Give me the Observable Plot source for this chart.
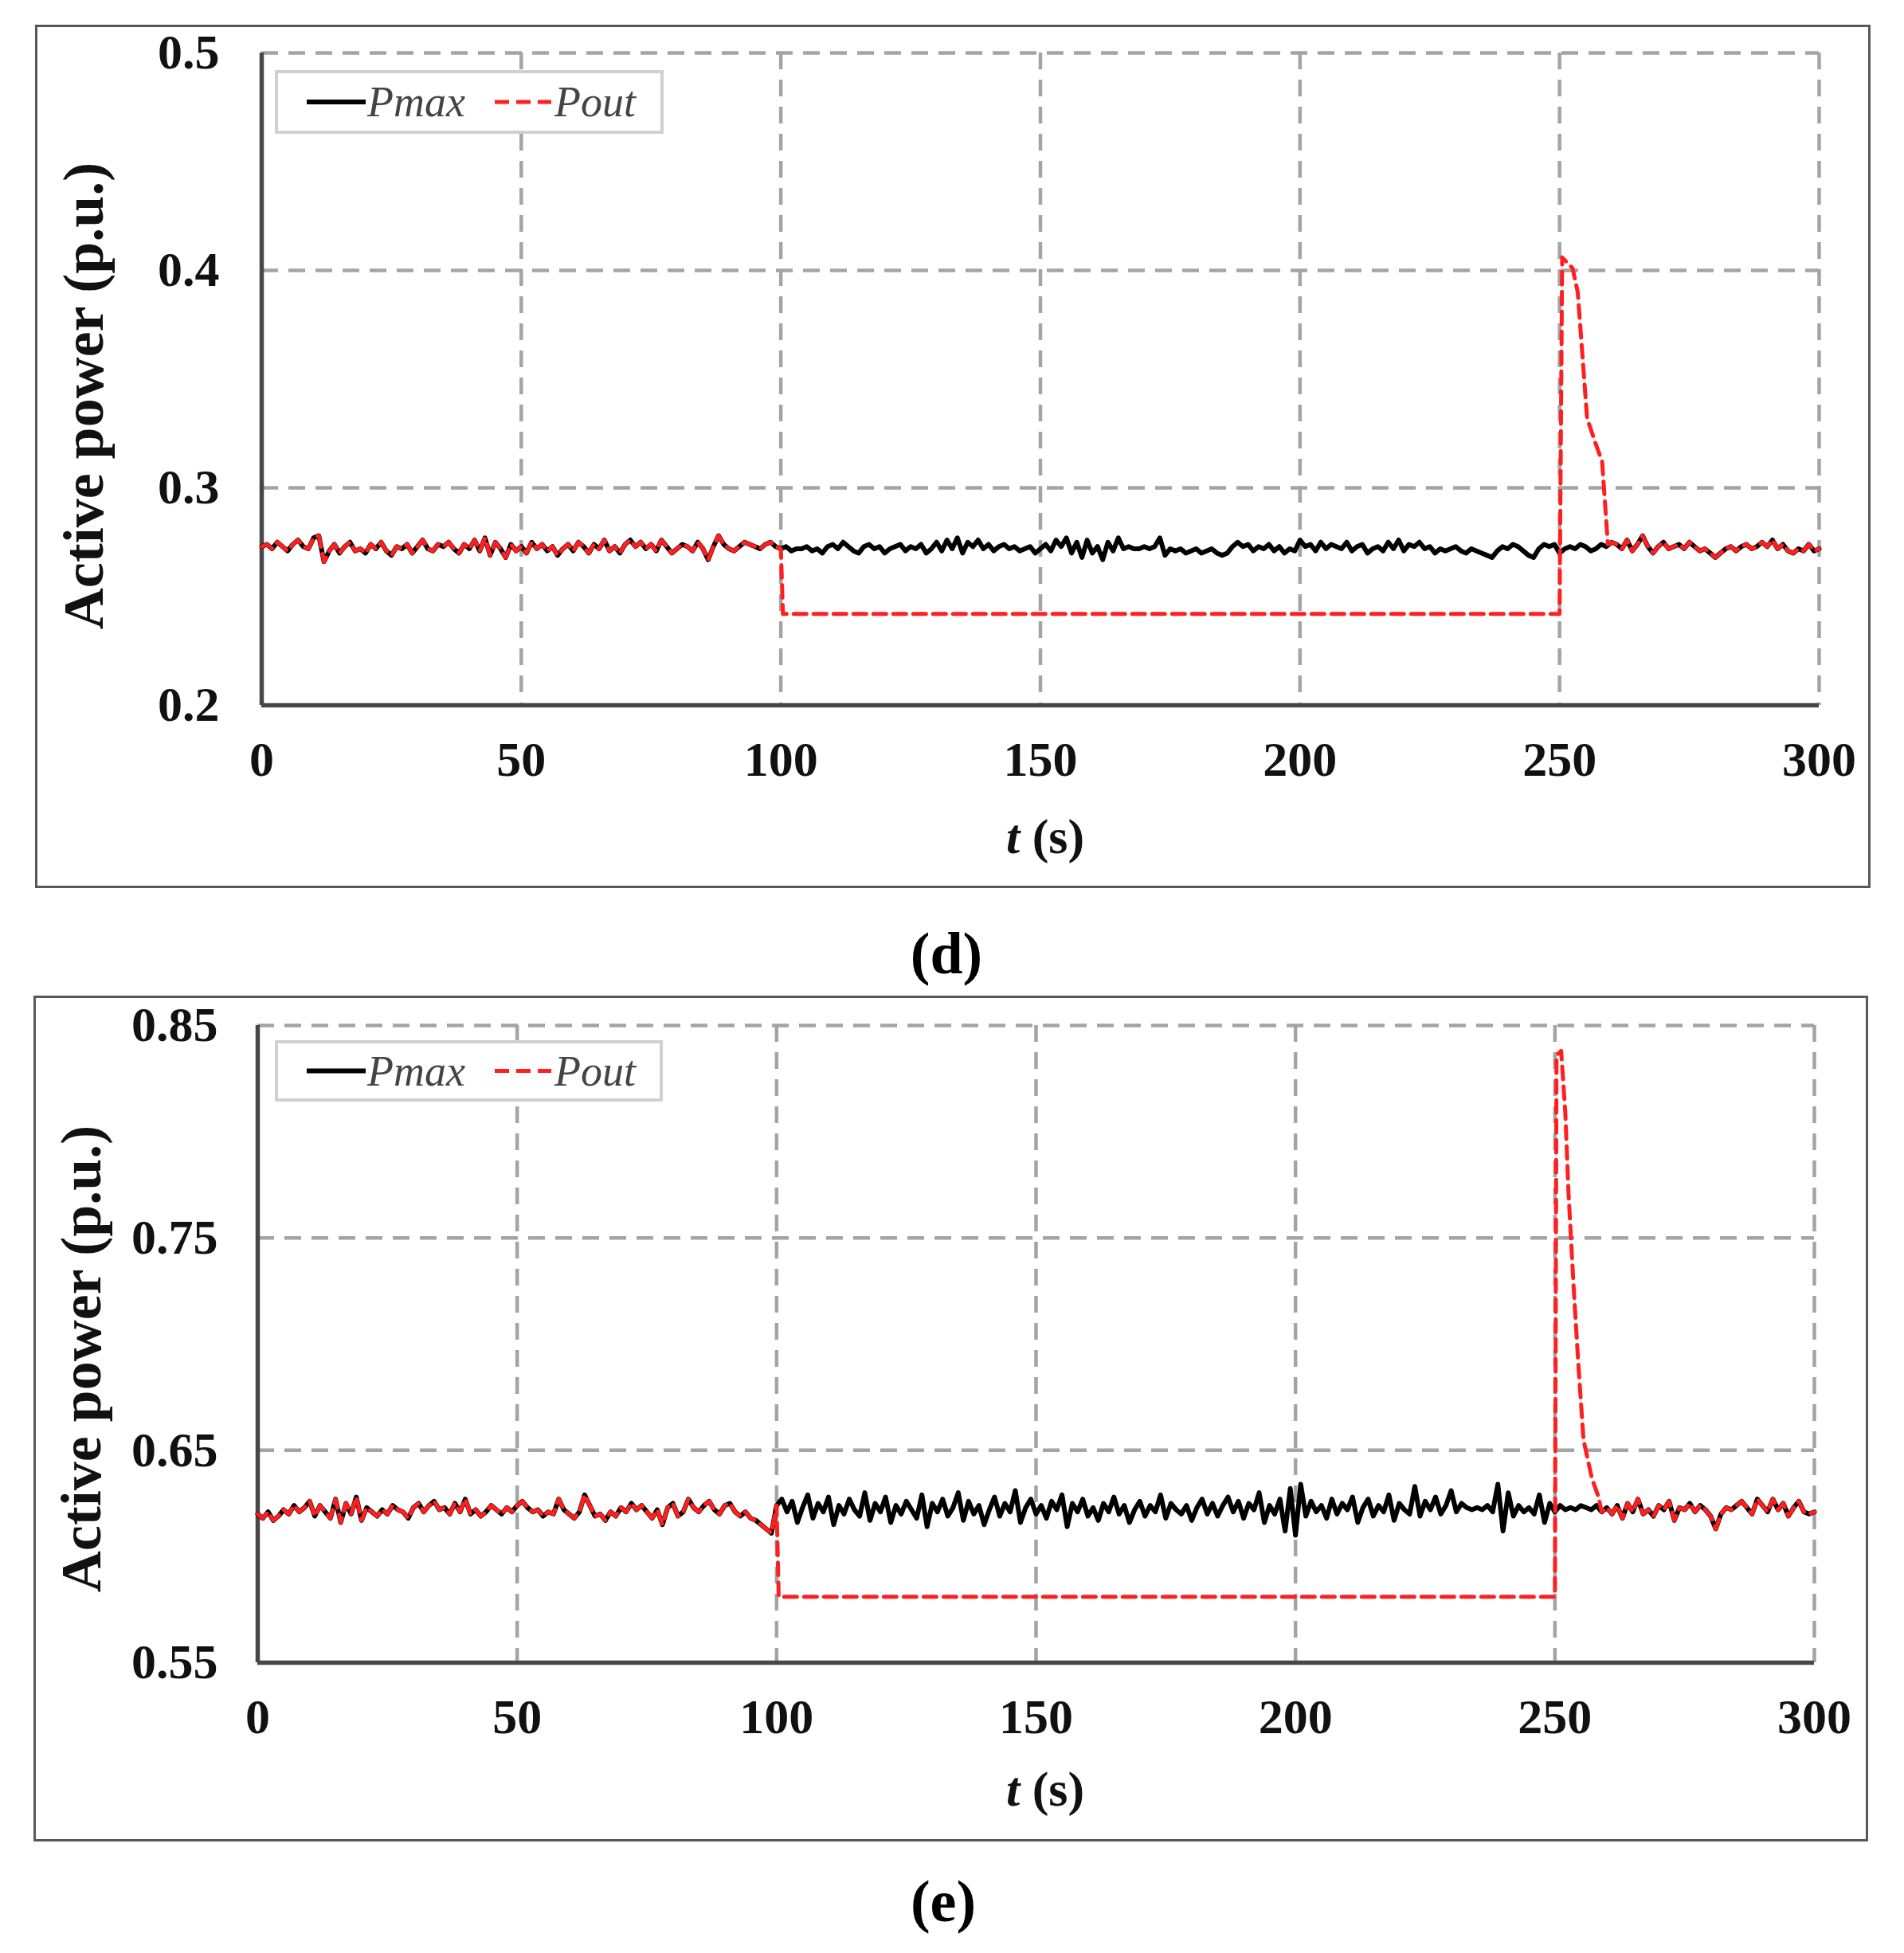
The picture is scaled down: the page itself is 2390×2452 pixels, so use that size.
<!DOCTYPE html>
<html>
<head>
<meta charset="utf-8">
<script src="https://cdn.jsdelivr.net/npm/d3@7"></script>
<script src="https://cdn.jsdelivr.net/npm/@observablehq/plot@0.6"></script>
<style>
  html, body { margin: 0; padding: 0; background: #fff; }
  #page { position: relative; width: 2390px; height: 2452px; overflow: hidden; font-family: "Liberation Serif", "Times New Roman", serif; }
  .panel-svg { position: absolute; left: 0; }
  .box { position: absolute; border: 3px solid #585858; box-sizing: border-box; pointer-events: none; }
  .lbl { position: absolute; transform: translate(-50%, -50%); white-space: nowrap; font-weight: bold; color: #111; }
  .ylbl { position: absolute; transform: translate(-50%, -50%) rotate(-90deg); white-space: nowrap; font-weight: bold; color: #111; font-size: 72px; }
  .legend { position: absolute; border: 4px solid #d0d0d0; box-sizing: border-box; background: #fff; }
  .legend svg { position: absolute; left: 0; top: 0; }
  .legend span { position: absolute; font-style: italic; font-size: 54px; color: #444; transform: translateY(-50%); }
</style>
</head>
<body>
<div id="page"></div>
<script>
// ---------- data ----------
const xTicks = [0, 50, 100, 150, 200, 250, 300];
const xTickLabels = ["0", "50", "100", "150", "200", "250", "300"];
const yTicksD = [0.2, 0.3, 0.4, 0.5];
const yTickLabelsD = ["0.2", "0.3", "0.4", "0.5"];
const yTicksE = [0.55, 0.65, 0.75, 0.85];
const yTickLabelsE = ["0.55", "0.65", "0.75", "0.85"];
const seriesNames = ["Pmax", "Pout"];

// Pmax, panel (d): one sample per second, t = 0..300
const pmaxD = [
0.273,0.274,0.272,0.275,0.273,0.271,0.274,0.276,0.273,0.272,
0.277,0.278,0.266,0.271,0.274,0.270,0.273,0.275,0.271,0.272,
0.270,0.274,0.272,0.275,0.271,0.269,0.273,0.272,0.274,0.270,
0.273,0.276,0.272,0.271,0.274,0.273,0.275,0.272,0.270,0.274,
0.272,0.276,0.271,0.277,0.269,0.275,0.272,0.268,0.274,0.271,
0.273,0.270,0.275,0.272,0.274,0.271,0.273,0.269,0.272,0.274,
0.271,0.275,0.273,0.270,0.274,0.272,0.276,0.271,0.273,0.270,
0.274,0.276,0.273,0.275,0.272,0.274,0.271,0.276,0.273,0.270,
0.272,0.274,0.273,0.271,0.275,0.272,0.267,0.273,0.278,0.274,
0.272,0.271,0.273,0.275,0.274,0.273,0.272,0.274,0.275,0.273,
0.272,0.273,0.271,0.272,0.272,0.273,0.271,0.272,0.270,0.273,
0.274,0.272,0.275,0.273,0.271,0.270,0.273,0.274,0.272,0.273,
0.270,0.272,0.273,0.274,0.271,0.273,0.272,0.274,0.270,0.272,
0.275,0.271,0.276,0.272,0.277,0.270,0.275,0.273,0.276,0.272,
0.274,0.271,0.273,0.274,0.272,0.273,0.271,0.272,0.273,0.270,
0.272,0.274,0.271,0.276,0.273,0.277,0.270,0.275,0.268,0.276,
0.270,0.273,0.267,0.275,0.271,0.277,0.272,0.273,0.272,0.272,
0.273,0.272,0.273,0.277,0.269,0.272,0.271,0.272,0.270,0.271,
0.272,0.270,0.271,0.272,0.270,0.269,0.270,0.273,0.275,0.273,
0.274,0.271,0.273,0.272,0.274,0.271,0.273,0.270,0.272,0.271,
0.276,0.273,0.274,0.271,0.275,0.272,0.274,0.273,0.272,0.275,
0.271,0.273,0.274,0.270,0.272,0.273,0.271,0.275,0.272,0.276,
0.271,0.274,0.273,0.275,0.272,0.273,0.270,0.272,0.271,0.272,
0.273,0.271,0.270,0.272,0.271,0.270,0.269,0.268,0.271,0.273,
0.272,0.274,0.273,0.271,0.269,0.268,0.272,0.274,0.273,0.274,
0.270,0.272,0.273,0.272,0.274,0.273,0.271,0.272,0.274,0.273,
0.275,0.274,0.272,0.276,0.271,0.274,0.278,0.273,0.270,0.273,
0.275,0.272,0.273,0.274,0.272,0.275,0.273,0.271,0.272,0.270,
0.268,0.270,0.272,0.273,0.271,0.273,0.274,0.272,0.273,0.275,
0.273,0.276,0.272,0.274,0.271,0.270,0.272,0.271,0.274,0.271,
0.272
];
// Pout, panel (d): follows Pmax until t=100 and from t=260; in between:
const poutDTransT = [100.4, 150, 200, 250, 250.5, 252.5, 253.5, 255.3, 257.0, 258.2, 259.3];
const poutDTransV = [0.242, 0.242, 0.242, 0.242, 0.406, 0.401, 0.390, 0.332, 0.320, 0.312, 0.274];
const poutDFollowBefore = 100, poutDFollowAfter = 260;

// Pmax, panel (e): one sample per second, t = 0..300
const pmaxE = [
0.620,0.618,0.621,0.617,0.619,0.622,0.620,0.624,0.621,0.623,
0.626,0.619,0.624,0.621,0.618,0.627,0.616,0.625,0.620,0.628,
0.617,0.623,0.621,0.619,0.622,0.620,0.624,0.622,0.621,0.618,
0.623,0.625,0.621,0.624,0.626,0.622,0.623,0.620,0.625,0.621,
0.627,0.620,0.622,0.619,0.621,0.624,0.622,0.620,0.623,0.621,
0.624,0.626,0.623,0.621,0.622,0.619,0.621,0.620,0.627,0.622,
0.620,0.618,0.621,0.629,0.624,0.619,0.620,0.617,0.621,0.619,
0.623,0.621,0.625,0.622,0.624,0.621,0.618,0.622,0.615,0.623,
0.625,0.619,0.621,0.627,0.623,0.621,0.624,0.626,0.622,0.620,
0.624,0.625,0.621,0.619,0.621,0.618,0.617,0.615,0.613,0.611,
0.624,0.627,0.621,0.626,0.616,0.623,0.629,0.618,0.625,0.621,
0.628,0.615,0.624,0.620,0.627,0.622,0.619,0.630,0.617,0.625,
0.621,0.628,0.616,0.624,0.620,0.626,0.622,0.618,0.629,0.614,
0.625,0.621,0.627,0.619,0.623,0.630,0.617,0.626,0.620,0.624,
0.615,0.622,0.628,0.619,0.625,0.621,0.631,0.616,0.623,0.627,
0.620,0.624,0.618,0.626,0.622,0.629,0.614,0.625,0.621,0.627,
0.619,0.623,0.617,0.625,0.621,0.628,0.620,0.624,0.616,0.622,
0.626,0.619,0.624,0.621,0.629,0.618,0.625,0.622,0.620,0.624,
0.617,0.623,0.627,0.620,0.625,0.619,0.624,0.628,0.621,0.626,
0.618,0.625,0.622,0.630,0.616,0.624,0.620,0.627,0.612,0.632,
0.610,0.634,0.619,0.626,0.621,0.624,0.618,0.627,0.620,0.625,
0.622,0.628,0.616,0.623,0.627,0.619,0.624,0.621,0.629,0.617,
0.625,0.622,0.620,0.633,0.619,0.626,0.622,0.628,0.620,0.624,
0.631,0.621,0.625,0.623,0.622,0.623,0.622,0.624,0.621,0.634,
0.612,0.630,0.619,0.624,0.621,0.623,0.620,0.629,0.616,0.625,
0.621,0.624,0.622,0.623,0.622,0.624,0.623,0.622,0.624,0.621,
0.623,0.620,0.624,0.618,0.625,0.621,0.627,0.620,0.622,0.619,
0.624,0.622,0.626,0.617,0.623,0.622,0.625,0.621,0.624,0.622,
0.619,0.613,0.620,0.623,0.622,0.624,0.626,0.623,0.620,0.627,
0.624,0.621,0.627,0.622,0.625,0.619,0.623,0.626,0.621,0.620,
0.621
];
// Pout, panel (e): follows Pmax until t=100 and from t=259; in between:
const poutETransT = [100.4, 150, 200, 250, 250.3, 251.2, 252.0, 252.6, 253.6, 254.5, 255.5, 257.1, 258.4];
const poutETransV = [0.581, 0.581, 0.581, 0.581, 0.836, 0.838, 0.809, 0.772, 0.727, 0.691, 0.655, 0.637, 0.628];
const poutEFollowBefore = 100, poutEFollowAfter = 259;

// ---------- build tables ----------
function seriesTable(values) { return values.map((v, i) => ({t: i, v})); }
function poutTable(pmax, before, after, tt, tv) {
  const rows = [];
  pmax.forEach((v, i) => { if (i <= before) rows.push({t: i, v}); });
  tt.forEach((t, i) => rows.push({t, v: tv[i]}));
  pmax.forEach((v, i) => { if (i >= after) rows.push({t: i, v}); });
  return rows;
}

const FONT = "Liberation Serif, Times New Roman, serif";
const page = document.getElementById("page");
const RED = "#ff1f1f";

function makePanel(cfg) {
  const pm = seriesTable(cfg.pmax);
  const po = poutTable(cfg.pmax, cfg.before, cfg.after, cfg.tt, cfg.tv);
  const grid = {stroke: "#a4a4a4", strokeOpacity: 1, strokeWidth: 4.5, strokeDasharray: "21,13"};
  const chart = Plot.plot({
    width: 2390,
    height: cfg.height,
    marginLeft: cfg.mL, marginRight: cfg.mR, marginTop: cfg.mT, marginBottom: cfg.mB,
    x: {domain: [0, 300]},
    y: {domain: cfg.yDomain},
    style: {fontFamily: FONT, background: "transparent", overflow: "visible"},
    marks: [
      Plot.gridX(xTicks, grid),
      Plot.gridY(cfg.yTicks, grid),
      Plot.ruleX([0], {stroke: "#474747", strokeWidth: 5.5}),
      Plot.ruleY([cfg.yDomain[0]], {stroke: "#474747", strokeWidth: 5.5}),
      Plot.axisX(xTicks, {tickSize: 0, tickPadding: 44, label: null, fontSize: 62, fontWeight: "bold", fill: "#111",
        tickFormat: d => xTickLabels[xTicks.indexOf(d)]}),
      Plot.axisY(cfg.yTicks, {tickSize: 0, tickPadding: cfg.yPad, label: null, fontSize: 62, fontWeight: "bold", fill: "#111",
        tickFormat: d => cfg.yLabels[cfg.yTicks.indexOf(d)]}),
      Plot.line(pm, {x: "t", y: "v", stroke: "#000", strokeWidth: 6, strokeLinejoin: "round"}),
      Plot.line(po, {x: "t", y: "v", stroke: RED, strokeWidth: 5, strokeDasharray: "16,9"})
    ]
  });
  chart.classList.add("panel-svg");
  chart.style.top = cfg.top + "px";
  page.appendChild(chart);

  // outer frame
  const box = document.createElement("div");
  box.className = "box";
  Object.assign(box.style, {left: cfg.box[0] + "px", top: cfg.box[1] + "px", width: cfg.box[2] + "px", height: cfg.box[3] + "px"});
  page.appendChild(box);

  // legend
  const lg = document.createElement("div");
  lg.className = "legend";
  const [lx, ly, lw, lh] = cfg.legend;
  Object.assign(lg.style, {left: lx + "px", top: ly + "px", width: lw + "px", height: lh + "px"});
  const mid = lh / 2 - 4;
  lg.innerHTML =
    `<svg width="${lw}" height="${lh}">
       <line x1="36" x2="110" y1="${mid}" y2="${mid}" stroke="#000" stroke-width="6"/>
       <line x1="272" x2="343" y1="${mid}" y2="${mid}" stroke="${RED}" stroke-width="5" stroke-dasharray="18,9"/>
     </svg>
     <span style="left:112px;top:${mid}px">${seriesNames[0]}</span>
     <span style="left:347px;top:${mid}px">${seriesNames[1]}</span>`;
  page.appendChild(lg);

  // axis titles
  const xl = document.createElement("div");
  xl.className = "lbl";
  xl.style.cssText += `left:${cfg.xTitle[0]}px;top:${cfg.xTitle[1]}px;font-size:62px;`;
  xl.innerHTML = "<i>t</i> (s)";
  page.appendChild(xl);

  const yl = document.createElement("div");
  yl.className = "ylbl";
  yl.style.left = cfg.yTitle[0] + "px";
  yl.style.top = cfg.yTitle[1] + "px";
  yl.textContent = "Active power (p.u.)";
  page.appendChild(yl);

  // caption
  const cap = document.createElement("div");
  cap.className = "lbl";
  cap.style.cssText += `left:${cfg.caption[0]}px;top:${cfg.caption[1]}px;font-size:74px;color:#000;`;
  cap.textContent = cfg.captionText;
  page.appendChild(cap);
}

makePanel({
  pmax: pmaxD, before: poutDFollowBefore, after: poutDFollowAfter, tt: poutDTransT, tv: poutDTransV,
  top: 0, height: 1130, mL: 328, mR: 2390 - 2283, mT: 66, mB: 1130 - 885,
  yDomain: [0.2, 0.5], yTicks: yTicksD, yLabels: yTickLabelsD, yPad: 53,
  box: [44, 31, 2304, 1084],
  legend: [345, 88, 488, 80],
  xTitle: [1312, 1050], yTitle: [105, 497],
  caption: [1188, 1197], captionText: "(d)"
});

makePanel({
  pmax: pmaxE, before: poutEFollowBefore, after: poutEFollowAfter, tt: poutETransT, tv: poutETransV,
  top: 1180, height: 1180, mL: 323, mR: 2390 - 2277, mT: 1287 - 1180, mB: 2360 - 2087,
  yDomain: [0.55, 0.85], yTicks: yTicksE, yLabels: yTickLabelsE, yPad: 50,
  box: [42, 1250, 2303, 1062],
  legend: [345, 1306, 487, 77],
  xTitle: [1312, 2246], yTitle: [102, 1706],
  caption: [1184, 2387], captionText: "(e)"
});
</script>
</body>
</html>
